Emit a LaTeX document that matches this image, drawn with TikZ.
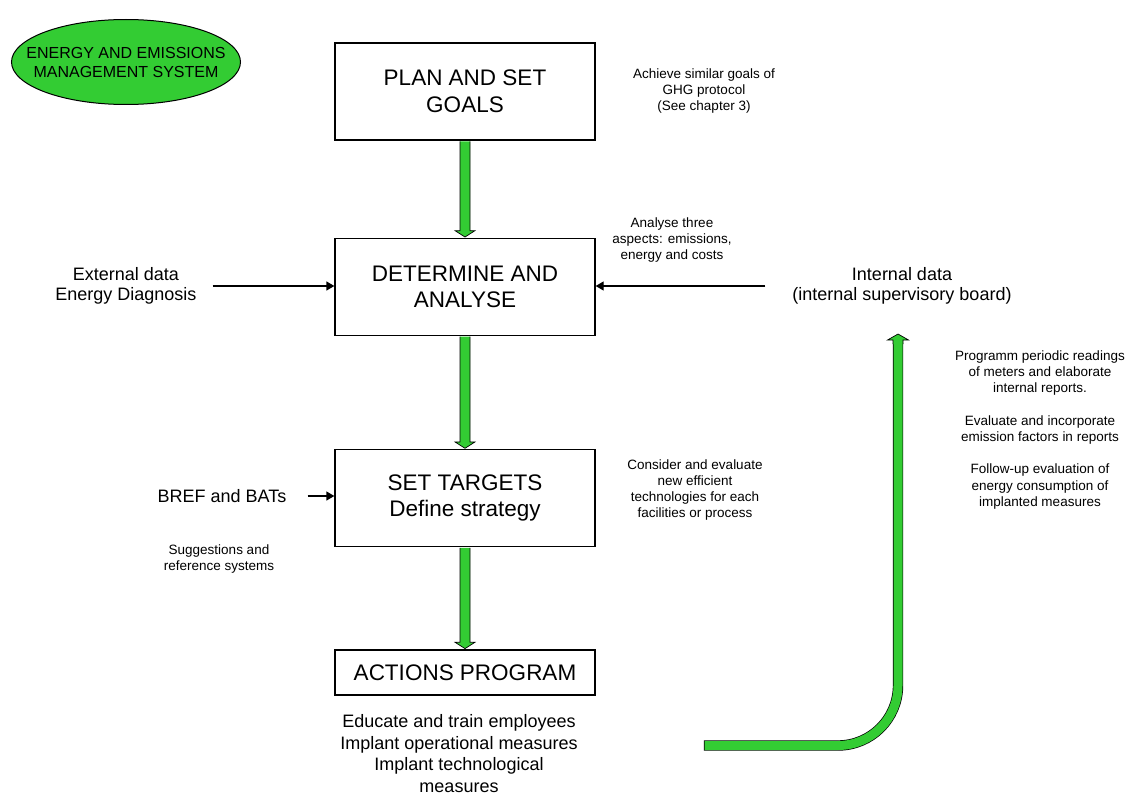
\documentclass[tikz,border=0pt]{standalone}
\usepackage{fontspec}
\setmainfont{Liberation Sans}
\usetikzlibrary{arrows.meta,positioning,shapes.geometric,calc}
\definecolor{flowgreen}{RGB}{51,204,51}

\begin{document}
\begin{tikzpicture}[x=1pt, y=1pt,
  node distance=97pt,
  box/.style={draw, line width=1.3pt, minimum width=260pt, minimum height=97pt, align=center, inner sep=2pt, font=\fontsize{22.5}{26.5}\selectfont},
  side/.style={align=center, inner sep=3pt, font=\fontsize{18}{20.5}\selectfont},
  note/.style={align=center, inner sep=2pt, font=\fontsize{13.5}{16.2}\selectfont},
  flow/.style={fill=flowgreen, draw=black, line width=0.7pt},
  arrow/.style={-{Triangle[length=8pt, width=9pt]}, line width=1.3pt}
]
\useasboundingbox (0,0) rectangle (1131,-797);

% title
\node[ellipse, draw, fill=flowgreen, line width=1pt, minimum width=229pt, minimum height=85pt, align=center, inner xsep=-22pt, inner ysep=0pt, font=\fontsize{16}{19}\selectfont] (ems) at (126,-62) {ENERGY AND EMISSIONS\\MANAGEMENT SYSTEM};

% main chain
\node[box] (plan) at (465,-91.5) {PLAN AND SET\\GOALS};
\node[box, below=of plan] (determine) {DETERMINE AND\\ANALYSE};
\node[box, below=113pt of determine] (targets) {SET TARGETS\\Define strategy};
\node[box, below=102pt of targets, minimum height=45pt] (actions) {ACTIONS PROGRAM};

% inputs
\node[side] (extdata) at (126,-286) {External data\\Energy Diagnosis};
\node[side] (intdata) at (902,-286) {Internal data\\(internal supervisory board)};
\node[side] (bref) at (222,-496) {BREF and BATs};

% remarks
\node[note] (goalsnote) at (704,-91) {Achieve similar goals of\\GHG protocol\\(See chapter 3)};
\node[note] (analysenote) at (672,-240) {Analyse three\\aspects: emissions,\\energy and costs};
\node[note] (techsnote) at (695,-490) {Consider and evaluate\\new efficient\\technologies for each\\facilities or process};
\node[note] (suggestnote) at (219,-559) {Suggestions and\\reference systems};
\node[note] (monitornote) at (1040,-430) {Programm periodic readings\\of meters and elaborate\\internal reports.\\[16.2pt]Evaluate and incorporate\\emission factors in reports\\[16.2pt]Follow-up evaluation of\\energy consumption of\\implanted measures};
\node[align=center, inner sep=2pt, font=\fontsize{18}{21.7}\selectfont] (measures) at (459,-753.5) {Educate and train employees\\Implant operational measures\\Implant technological\\measures};

% green flow arrows
\foreach \a/\b in {plan/determine, determine/targets, targets/actions} {
  \filldraw[flow] ($(\a.south)+(-5,-0.65)$) -- ($(\b.north)+(-5,7)$) -- ++(-5,0) -- ($(\b.north)+(0,0.65)$) -- ($(\b.north)+(10,7)$) -- ++(-5,0) -- ($(\a.south)+(5,-0.65)$);
}

% side inputs
\draw[arrow, shorten <=13pt] (extdata.east) -- (extdata.east -| determine.west);
\draw[arrow, shorten <=24pt] (intdata.west) -- (intdata.west -| determine.east);
\draw[arrow, shorten <=18pt] (bref.east) -- (bref.east -| targets.west);

% feedback loop
\coordinate (fbstart) at (709,-745.5);
\coordinate (fbend) at (898,-334);
\draw[double=flowgreen, double distance=9pt, line width=0.7pt, line cap=rect] (fbstart) -- (838,-745.5) arc[start angle=-90, end angle=0, radius=60] -- ($(fbend)+(0,-14)$);
\filldraw[flow] ($(fbend)+(-5,-10)$) -- ++(0,4) -- ++(-5.5,0) -- (fbend) -- ++(10.5,-6) -- ++(-5.5,0) -- ++(0,-4);
\end{tikzpicture}
\end{document}
